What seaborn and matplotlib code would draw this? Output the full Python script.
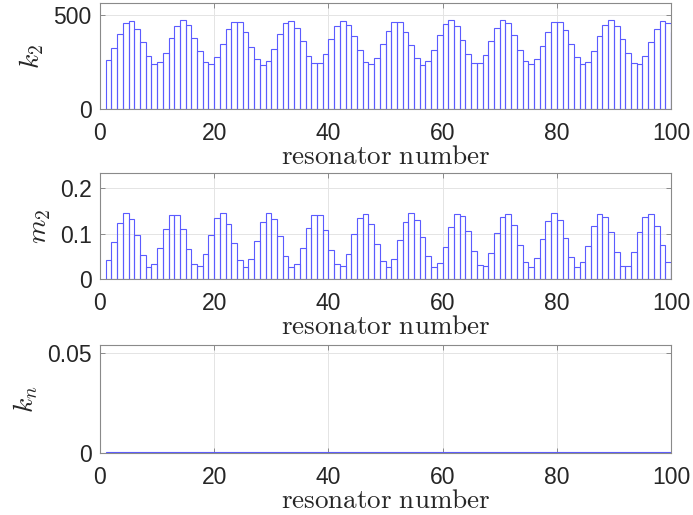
import numpy as np
import pandas as pd
import matplotlib
matplotlib.use("Agg")
import matplotlib.pyplot as plt
import seaborn as sns

# resonator index (1..100)
resonator = np.arange(1, 101)

# stiffness of each resonator
k2 = [261, 326, 402, 459, 468, 429, 355, 280, 239, 248,
      301, 376, 445, 472, 450, 381, 307, 250, 239, 275,
      349, 424, 466, 463, 408, 333, 264, 234, 257, 321,
      399, 456, 470, 434, 360, 285, 243, 243, 294, 371,
      440, 470, 450, 390, 312, 252, 238, 271, 344, 418,
      465, 465, 413, 339, 270, 236, 254, 314, 394, 452,
      472, 440, 367, 293, 243, 243, 289, 365, 434, 472,
      456, 397, 317, 255, 238, 266, 337, 413, 463, 466,
      422, 348, 275, 238, 250, 307, 387, 450, 472, 445,
      374, 298, 246, 239, 284, 358, 429, 470, 459, 410]

# mass of each resonator
m2 = [0.042, 0.082, 0.123, 0.144, 0.132, 0.096, 0.052, 0.027, 0.032, 0.068,
      0.111, 0.140, 0.140, 0.109, 0.065, 0.032, 0.028, 0.054, 0.097, 0.134,
      0.144, 0.121, 0.079, 0.041, 0.026, 0.043, 0.083, 0.125, 0.145, 0.132,
      0.094, 0.051, 0.026, 0.034, 0.069, 0.113, 0.141, 0.140, 0.107, 0.064,
      0.032, 0.028, 0.056, 0.099, 0.135, 0.143, 0.121, 0.077, 0.040, 0.026,
      0.044, 0.085, 0.126, 0.145, 0.130, 0.092, 0.050, 0.026, 0.035, 0.071,
      0.114, 0.142, 0.138, 0.105, 0.062, 0.030, 0.028, 0.058, 0.101, 0.136,
      0.143, 0.118, 0.075, 0.038, 0.026, 0.046, 0.088, 0.127, 0.145, 0.129,
      0.090, 0.048, 0.026, 0.037, 0.073, 0.116, 0.143, 0.137, 0.104, 0.060,
      0.029, 0.029, 0.060, 0.104, 0.136, 0.143, 0.116, 0.074, 0.038, 0.026]

# coupling stiffness of each resonator
kn = [0.0005, 0.0005, 0.0005, 0.0005, 0.0005, 0.0005, 0.0005, 0.0005, 0.0005, 0.0005,
      0.0005, 0.0005, 0.0005, 0.0005, 0.0005, 0.0005, 0.0005, 0.0005, 0.0005, 0.0005,
      0.0005, 0.0005, 0.0005, 0.0005, 0.0005, 0.0005, 0.0005, 0.0005, 0.0005, 0.0005,
      0.0005, 0.0005, 0.0005, 0.0005, 0.0005, 0.0005, 0.0005, 0.0005, 0.0005, 0.0005,
      0.0005, 0.0005, 0.0005, 0.0005, 0.0005, 0.0005, 0.0005, 0.0005, 0.0005, 0.0005,
      0.0005, 0.0005, 0.0005, 0.0005, 0.0005, 0.0005, 0.0005, 0.0005, 0.0005, 0.0005,
      0.0005, 0.0005, 0.0005, 0.0005, 0.0005, 0.0005, 0.0005, 0.0005, 0.0005, 0.0005,
      0.0005, 0.0005, 0.0005, 0.0005, 0.0005, 0.0005, 0.0005, 0.0005, 0.0005, 0.0005,
      0.0005, 0.0005, 0.0005, 0.0005, 0.0005, 0.0005, 0.0005, 0.0005, 0.0005, 0.0005,
      0.0005, 0.0005, 0.0005, 0.0005, 0.0005, 0.0005, 0.0005, 0.0005, 0.0005, 0.0005]

x_ticks = [0, 20, 40, 60, 80, 100]
panels = [
    (k2, r"$k_2$", [0, 500], ["0", "500"], 565),
    (m2, r"$m_2$", [0, 0.1, 0.2], ["0", "0.1", "0.2"], 0.233),
    (kn, r"$k_n$", [0, 0.05], ["0", "0.05"], 0.054),
]

sns.set_style("ticks")
plt.rcParams["font.family"] = ["Liberation Sans", "DejaVu Sans"]
plt.rcParams["mathtext.fontset"] = "cm"

W, H = 693, 515
fig = plt.figure(figsize=(W / 100, H / 100), dpi=100)
fig.patch.set_facecolor("white")

# axes boxes in pixels: (left, top, right, bottom)
boxes = [(100, 3, 671, 109), (100, 173, 671, 279), (100, 345, 671, 453)]

frame = "#8a8a8a"
bar_color = "#5b5bff"

for (vals, ylab, yt, ytl, ytop), (l, t, r, b) in zip(panels, boxes):
    ax = fig.add_axes([l / W, 1 - b / H, (r - l) / W, (b - t) / H])
    # each bar spans [n, n+1] along the resonator axis
    df = pd.DataFrame({"pos": resonator + 0.5, "value": vals})
    sns.barplot(data=df, x="pos", y="value", native_scale=True, width=1,
                fill=False, color=bar_color, linewidth=0.8,
                errorbar=None, ax=ax)
    ax.set_xlim(0, 100)
    ax.set_ylim(0, ytop)
    ax.set_xticks(x_ticks)
    ax.set_xticklabels([str(v) for v in x_ticks])
    ax.set_yticks(yt)
    ax.set_yticklabels(ytl)
    ax.grid(True, color="#e4e4e4", linewidth=0.7)
    ax.set_axisbelow(True)
    for s in ax.spines.values():
        s.set_visible(True)
        s.set_color(frame)
        s.set_linewidth(0.8)
    ax.tick_params(axis="both", direction="in", length=3.5, width=0.7,
                   color=frame, labelsize=16.5, labelcolor="#262626",
                   top=True, right=True)
    ax.tick_params(axis="x", pad=9)
    ax.tick_params(axis="y", pad=6)
    ax.set_ylabel(ylab, fontsize=20, labelpad=5, color="#262626")
    ax.set_xlabel(r"$\mathrm{resonator\ number}$", fontsize=19.5,
                  labelpad=0, color="#262626")

fig.savefig("out.png", dpi=100, facecolor="white")
